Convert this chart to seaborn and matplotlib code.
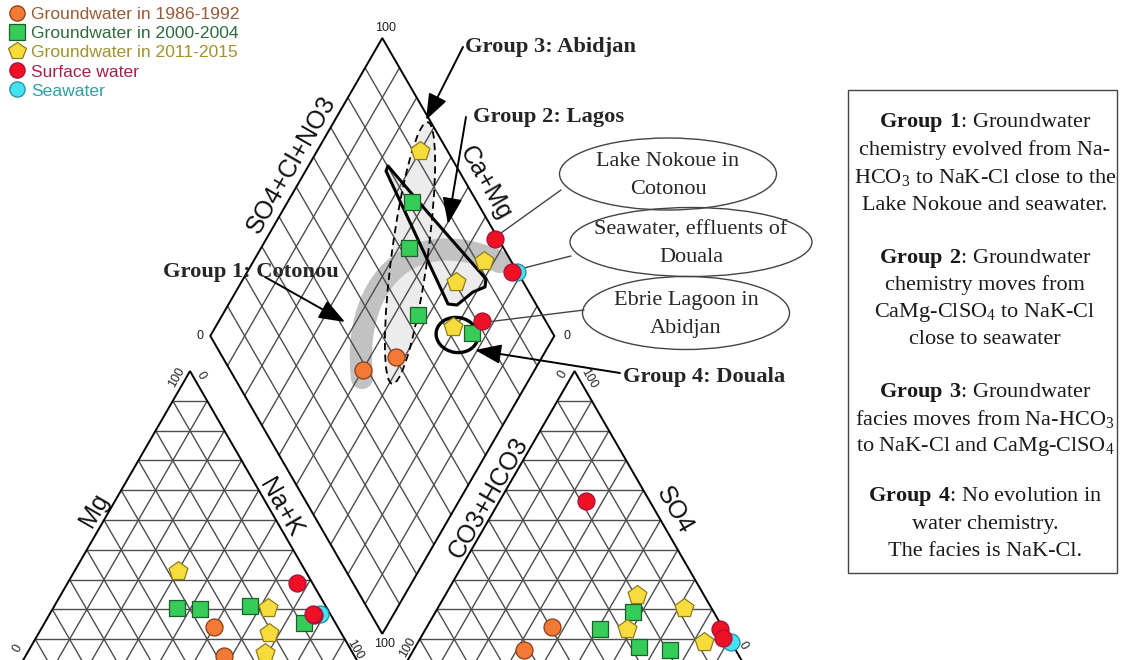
import numpy as np
import pandas as pd
import matplotlib
matplotlib.use("Agg")
import matplotlib.pyplot as plt
from matplotlib.patches import Ellipse, Polygon, Rectangle, PathPatch
from matplotlib.path import Path
from matplotlib.lines import Line2D
import seaborn as sns

sns.set_style("white")
plt.rcParams["font.family"] = ["Liberation Sans", "DejaVu Sans"]
plt.rcParams["mathtext.fontset"] = "custom"
plt.rcParams["mathtext.rm"] = "Liberation Serif"
plt.rcParams["mathtext.bf"] = "Liberation Serif:bold"

# --- data (meq %) ---
groups = (["Groundwater in 1986-1992"] * 2 + ["Groundwater in 2000-2004"] * 4
          + ["Groundwater in 2011-2015"] * 4 + ["Seawater"] + ["Surface water"] * 3)
mg = [14, 4.5, 20.5, 20, 21, 15.5, 33, 20.5, 12, 5.5, 18.5, 29, 18, 18.5]
nak = [50, 57.5, 36, 43, 57, 75.5, 30, 62.5, 67, 69, 78.5, 66.5, 77, 76.5]
so4 = [6.5, 14, 6.5, 7.5, 13.5, 19, 20.5, 25, 9, 13.5, 9, 13.5, 10.5, 56.5]
cl = [32, 36.5, 74.5, 65, 50.5, 57.5, 71.5, 55.5, 83, 58.5, 91, 85.5, 88, 25]

legend_order = ["Groundwater in 1986-1992", "Groundwater in 2000-2004",
                "Groundwater in 2011-2015", "Surface water", "Seawater"]
draw_order = ["Groundwater in 1986-1992", "Groundwater in 2000-2004",
              "Groundwater in 2011-2015", "Seawater", "Surface water"]
face = {"Groundwater in 1986-1992": "#f27a36", "Groundwater in 2000-2004": "#35cc58",
        "Groundwater in 2011-2015": "#f6dc3c", "Surface water": "#ee1024",
        "Seawater": "#46e2f2"}
edge = {"Groundwater in 1986-1992": "#8a3c18", "Groundwater in 2000-2004": "#1d5e2c",
        "Groundwater in 2011-2015": "#8f7d1c", "Surface water": "#a3103e",
        "Seawater": "#1d8fa0"}
shape = {"Groundwater in 1986-1992": "o", "Groundwater in 2000-2004": "s",
         "Groundwater in 2011-2015": "p", "Surface water": "o", "Seawater": "o"}
size = {"o": 150, "s": 120, "p": 205}
text_col = ["#9a5a36", "#2f6b3e", "#a0922e", "#a3204f", "#2f9fa5"]

# --- piper geometry (triangle side = 100) ---
GAP = 11.8
H = np.sqrt(3) / 2
S, X0, Y0 = 3.44, 18, 669   # picture pixels per unit, origin in pixels


def cation_xy(m, n):
    return n + m / 2, m * H


def anion_xy(s, c):
    return 100 + GAP + c + s / 2, s * H


def diamond_xy(a, c):
    return 100 + GAP / 2 + (a - c) / 2, GAP * H + (a + c) * H


def px(x, y):
    return (x - X0) / S, (Y0 - y) / S


mg_a, nak_a, so4_a, cl_a = map(np.array, (mg, nak, so4, cl))
cx, cy = cation_xy(mg_a, nak_a)
ax_, ay = anion_xy(so4_a, cl_a)
dx, dy = diamond_xy(so4_a + cl_a, 100 - nak_a)
df = pd.DataFrame({"x": np.concatenate([cx, ax_, dx]),
                   "y": np.concatenate([cy, ay, dy]),
                   "group": groups * 3})

fig = plt.figure(figsize=(11.22, 6.6), dpi=100)
ax = fig.add_axes([0, 0, 1, 1])
ax.set_xlim(px(0, 0)[0], px(1122, 0)[0])
ax.set_ylim(px(0, 660)[1], px(0, 0)[1])
ax.axis("off")

gcol, gw = "#4d4d4d", 1.0


def seg(p, q, **kw):
    ax.plot([p[0], q[0]], [p[1], q[1]], **kw)


# triangles and diamond grids
for k in range(10, 100, 10):
    seg(cation_xy(k, 0), cation_xy(k, 100 - k), color=gcol, lw=gw, zorder=3)
    seg(cation_xy(0, k), cation_xy(100 - k, k), color=gcol, lw=gw, zorder=3)
    seg(cation_xy(100 - k, 0), cation_xy(0, 100 - k), color=gcol, lw=gw, zorder=3)
    seg(anion_xy(k, 0), anion_xy(k, 100 - k), color=gcol, lw=gw, zorder=3)
    seg(anion_xy(0, k), anion_xy(100 - k, k), color=gcol, lw=gw, zorder=3)
    seg(anion_xy(100 - k, 0), anion_xy(0, 100 - k), color=gcol, lw=gw, zorder=3)
    seg(diamond_xy(k, 0), diamond_xy(k, 100), color=gcol, lw=gw, zorder=3)
    seg(diamond_xy(0, k), diamond_xy(100, k), color=gcol, lw=gw, zorder=3)

for pts in ([cation_xy(0, 0), cation_xy(0, 100), cation_xy(100, 0)],
            [anion_xy(0, 0), anion_xy(0, 100), anion_xy(100, 0)],
            [diamond_xy(0, 0), diamond_xy(100, 0), diamond_xy(100, 100), diamond_xy(0, 100)]):
    ax.add_patch(Polygon(pts, closed=True, fill=False, ec="k", lw=1.4, zorder=3.5))

# group shading and outlines
ell3 = Ellipse(px(410, 253), 264 / S, 36 / S, angle=82.3, fc="#ececec", ec="none", zorder=1)
ax.add_patch(ell3)
g2 = [px(*p) for p in [(388, 166), (430, 215), (486, 279), (485, 287), (473, 292),
                       (457, 305), (448, 304), (386, 171)]]
ax.add_patch(Polygon(g2, closed=True, fc="#ececec", ec="none", zorder=1))
band = Path([px(362, 378), px(352, 290), px(405, 220), px(500, 262)],
            [Path.MOVETO, Path.CURVE4, Path.CURVE4, Path.CURVE4])
ax.add_patch(PathPatch(band, fc="none", ec="#c2c2c2", lw=16, capstyle="round", zorder=2))
ax.add_patch(Ellipse(px(410, 253), 264 / S, 36 / S, angle=82.3, fill=False, ec="k",
                     lw=1.3, ls=(0, (4, 2.5)), zorder=4))
ax.add_patch(Polygon(g2, closed=True, fill=False, ec="k", lw=2.2, joinstyle="round", zorder=4))
ax.add_patch(Ellipse(px(457, 335), 42 / S, 35 / S, angle=-10, fill=False, ec="k", lw=2.4, zorder=4))

# points
for g in draw_order:
    m = shape[g]
    sns.scatterplot(data=df[df["group"] == g], x="x", y="y", marker=m, s=size[m],
                    color=face[g], edgecolor=edge[g], linewidth=0.9, ax=ax,
                    legend=False, zorder=5)

# arrows and group labels
arw = dict(arrowstyle="-|>,head_length=0.8,head_width=0.3", color="k", lw=1.4,
           shrinkA=0, shrinkB=0, mutation_scale=20)
for tip, start in [((426, 120), (463, 47)), ((448, 224), (466, 117)),
                   ((345, 322), (265, 277)), ((475, 350), (620, 373))]:
    ax.annotate("", xy=px(*tip), xytext=px(*start), arrowprops=arw, zorder=6)

serif = "Liberation Serif"
for txt, p in [("Group 3: Abidjan", (465, 47)), ("Group 2: Lagos", (473, 117)),
               ("Group 1: Cotonou", (163, 272)), ("Group 4: Douala", (623, 377))]:
    ax.text(*px(*p), txt, fontfamily=serif, fontweight="bold", fontsize=16.2,
            ha="left", va="center", zorder=7)

# callouts
for c, w, h, lines, lead in [((668, 174), 217, 72, ["Lake Nokoue in", "Cotonou"], ((501, 233), (561, 190))),
                             ((691, 242), 242, 69, ["Seawater, effluents of", "Douala"], ((520, 269), (571, 256))),
                             ((686, 313), 207, 73, ["Ebrie Lagoon in", "Abidjan"], ((487, 322), (584, 310)))]:
    ax.add_patch(Ellipse(px(*c), w / S, h / S, fill=False, ec="#444444", lw=1.0, zorder=4))
    seg(px(*lead[0]), px(*lead[1]), color="#444444", lw=1.0, zorder=4)
    ax.text(*px(c[0], c[1] - 12), lines[0], fontfamily=serif, fontsize=16, ha="center", va="center")
    ax.text(*px(c[0], c[1] + 15), lines[1], fontfamily=serif, fontsize=16, ha="center", va="center")

# axis labels
for txt, p, rot in [("SO4+Cl+NO3", (291, 165), 60), ("Ca+Mg", (485, 183), -60),
                    ("Mg", (94, 510), 60), ("Na+K", (281, 508), -60),
                    ("CO3+HCO3", (489, 498), 60), ("SO4", (674, 510), -60)]:
    ax.text(*px(*p), txt, fontsize=18, rotation=rot, ha="center", va="center",
            rotation_mode="anchor", color="#111111")

for txt, p, rot in [("100", (386, 28), 0), ("0", (200, 336), 0), ("0", (567, 336), 0),
                    ("100", (385, 644), 0), ("100", (177, 377), 60), ("0", (201, 376), -60),
                    ("0", (18, 648), 60), ("100", (355, 650), -60), ("0", (563, 374), 60),
                    ("100", (589, 379), -60), ("100", (408, 647), 60), ("0", (743, 646), -60)]:
    ax.text(*px(*p), txt, fontsize=9, rotation=rot, ha="center", va="center",
            rotation_mode="anchor", color="#222222")

# explanatory box
ax.add_patch(Rectangle(px(848, 573), 269 / S, 483 / S, fill=False, ec="#444444", lw=1.0))
box_lines = [
    (r"$\mathbf{Group\ 1}$: Groundwater", 123), ("chemistry evolved from Na-", 150),
    (r"HCO$_3$ to NaK-Cl close to the", 178), ("Lake Nokoue and seawater.", 206),
    (r"$\mathbf{Group\ 2}$: Groundwater", 258), ("chemistry moves from", 285),
    (r"CaMg-ClSO$_4$ to NaK-Cl", 313), ("close to seawater", 340),
    (r"$\mathbf{Group\ 3}$: Groundwater", 392), (r"facies moves from Na-HCO$_3$", 420),
    (r"to NaK-Cl and CaMg-ClSO$_4$", 447),
    (r"$\mathbf{Group\ 4}$: No evolution in", 497), ("water chemistry.", 525),
    ("The facies is NaK-Cl.", 552),
]
for txt, yy in box_lines:
    ax.text(*px(985, yy), txt, fontfamily=serif, fontsize=16, ha="center", va="center",
            color="#1a1a1a")

# legend
handles = [Line2D([], [], ls="", marker=shape[g], markersize=11 if shape[g] != "p" else 13,
                  markerfacecolor=face[g], markeredgecolor=edge[g], markeredgewidth=0.9)
           for g in legend_order]
fig.legend(handles, legend_order, loc="upper left", bbox_to_anchor=(-0.004, 1.008),
           frameon=False, fontsize=12.6, labelcolor=text_col, handletextpad=0.35,
           labelspacing=0.22, handlelength=1.0, borderpad=0.2)

fig.savefig("out.png", dpi=100)
